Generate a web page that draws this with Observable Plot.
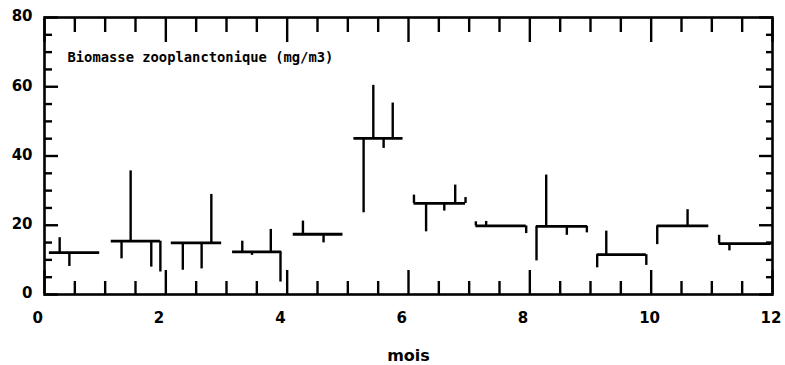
<!DOCTYPE html>
<html>
<head>
<meta charset="utf-8">
<script src="https://cdn.jsdelivr.net/npm/d3@7"></script>
<script src="https://cdn.jsdelivr.net/npm/@observablehq/plot@0.6"></script>
<style>
  html, body { margin: 0; padding: 0; background: #fff; }
  #chart { width: 785px; height: 365px; }
</style>
</head>
<body>
<div id="chart"></div>
<script>
// Monthly means (horizontal segments)
const monthStart = [0.08, 1.10, 2.09, 3.10, 4.10, 5.10, 6.09, 7.11, 8.11, 9.11, 10.10, 11.12];
const monthEnd   = [0.91, 1.91, 2.92, 3.91, 4.92, 5.91, 6.94, 7.94, 8.95, 9.92, 10.95, 11.98];
const monthMean  = [12.1, 15.4, 14.9, 12.3, 17.4, 45.1, 26.3, 19.8, 19.7, 11.5, 19.8, 14.7];

// Individual observations (vertical lines from the month mean)
const obsMonth = [0, 0, 1, 1, 1, 1, 2, 2, 2, 3, 3, 3, 3, 4, 4, 5, 5, 5, 5, 6, 6, 6, 6, 6, 7, 7, 7, 8, 8, 8, 8, 9, 9, 9, 10, 10, 11, 11];
const obsDate  = [0.25, 0.41, 1.27, 1.42, 1.76, 1.91, 2.28, 2.59, 2.75, 3.26, 3.42, 3.73, 3.89, 4.26, 4.60, 5.26, 5.42, 5.59, 5.74,
                  6.09, 6.29, 6.59, 6.77, 6.94, 7.11, 7.28, 7.94, 8.11, 8.27, 8.61, 8.94, 9.11, 9.26, 9.92, 10.10, 10.60, 11.12, 11.29];
const obsValue = [16.4, 8.1, 10.3, 35.7, 7.9, 6.5, 7.0, 7.4, 28.9, 15.4, 11.3, 18.8, 3.6, 21.2, 14.9, 23.6, 60.4, 42.2, 55.3,
                  28.7, 18.1, 24.1, 31.6, 28.0, 21.0, 21.1, 17.6, 9.7, 34.5, 17.1, 17.8, 7.7, 18.3, 8.4, 14.4, 24.5, 17.1, 12.6];

const xTicks = [0, 2, 4, 6, 8, 10, 12];
const xMinorTicks = [0.5, 1, 1.5, 2.5, 3, 3.5, 4.5, 5, 5.5, 6.5, 7, 7.5, 8.5, 9, 9.5, 10.5, 11, 11.5];
const yTicks = [0, 20, 40, 60, 80];
const yMinorTicks = [5, 10, 15, 25, 30, 35, 45, 50, 55, 65, 70, 75];

const titleText = "Biomasse zooplanctonique (mg/m3)";
const xLabel = "mois";

const means = monthMean.map((m, i) => ({x1: monthStart[i], x2: monthEnd[i], y: m}));
const obs = obsDate.map((d, i) => ({x: d, y1: monthMean[obsMonth[i]], y2: obsValue[i]}));

const empty = () => "";
const sw = 2.4;
const labelFont = "'DejaVu Sans', sans-serif";

const chart = Plot.plot({
  width: 785,
  height: 365,
  marginLeft: 44,
  marginRight: 13,
  marginTop: 17,
  marginBottom: 71,
  style: {fontFamily: "'DejaVu Sans Mono', monospace", fontWeight: "bold", fontSize: "14px", color: "#000", background: "#fff"},
  x: {domain: [0, 12]},
  y: {domain: [0, 80]},
  marks: [
    // ticks (inward)
    Plot.axisX(xTicks, {anchor: "bottom", tickSize: -24, tickFormat: empty, strokeWidth: sw, label: null}),
    Plot.axisX(xMinorTicks, {anchor: "bottom", tickSize: -13, tickFormat: empty, strokeWidth: sw, label: null}),
    Plot.axisX(xTicks, {anchor: "top", tickSize: -24, tickFormat: empty, strokeWidth: sw, label: null}),
    Plot.axisX(xMinorTicks, {anchor: "top", tickSize: -14, tickFormat: empty, strokeWidth: sw, label: null}),
    Plot.axisY(yTicks, {anchor: "left", tickSize: -14, tickFormat: empty, strokeWidth: sw, label: null}),
    Plot.axisY(yMinorTicks, {anchor: "left", tickSize: -8, tickFormat: empty, strokeWidth: sw, label: null}),
    Plot.axisY(yTicks, {anchor: "right", tickSize: -14, tickFormat: empty, strokeWidth: sw, label: null}),
    Plot.axisY(yMinorTicks, {anchor: "right", tickSize: -7, tickFormat: empty, strokeWidth: sw, label: null}),
    // tick labels
    Plot.axisX(xTicks, {anchor: "bottom", tickSize: 0, tickPadding: 18, dx: -12, textAnchor: "start", label: null, fontSize: 15, fontFamily: labelFont}),
    Plot.axisY(yTicks, {anchor: "left", tickSize: 0, tickPadding: 12, dy: -1, label: null, fontSize: 15, fontFamily: labelFont}),
    Plot.frame({stroke: "#000", strokeWidth: 2.6}),
    // data
    Plot.ruleX(obs, {x: "x", y1: "y1", y2: "y2", stroke: "#000", strokeWidth: sw}),
    Plot.ruleY(means, {y: "y", x1: "x1", x2: "x2", stroke: "#000", strokeWidth: sw + 0.4}),
    // title and x label
    Plot.text([titleText], {frameAnchor: "top-left", dx: 23, dy: 40, lineAnchor: "middle", textAnchor: "start", fontSize: 13.8, fontWeight: "bold", fill: "#000"}),
    Plot.text([xLabel], {frameAnchor: "bottom", dy: 61, lineAnchor: "middle", fontSize: 16, fontWeight: "bold", fontFamily: labelFont, fill: "#000"})
  ]
});
document.getElementById("chart").appendChild(chart);
</script>
</body>
</html>
